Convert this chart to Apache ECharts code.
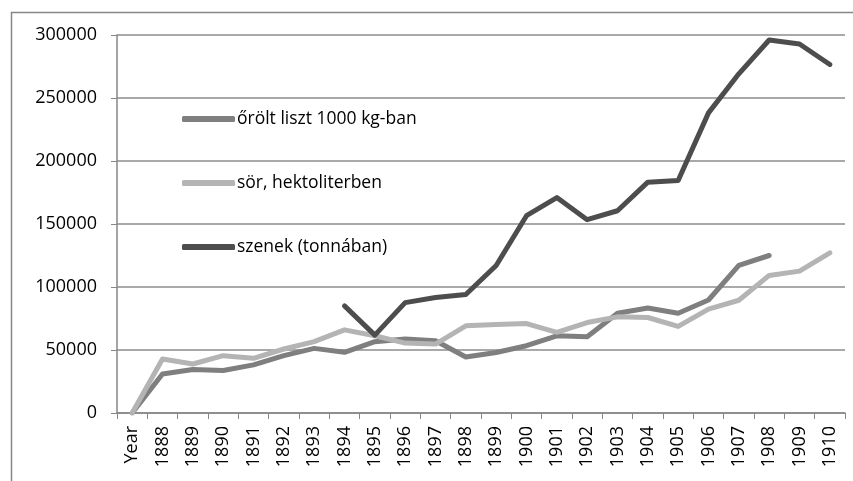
<!DOCTYPE html>
<html>
<head>
<meta charset="utf-8">
<script src="https://cdn.jsdelivr.net/npm/echarts@6/dist/echarts.min.js"></script>
<style>
html, body { margin: 0; padding: 0; background: #fff; }
#chart { width: 853px; height: 481px; }
</style>
</head>
<body>
<div id="chart"></div>
<script>
var years = ['Year', '1888', '1889', '1890', '1891', '1892', '1893', '1894', '1895', '1896', '1897', '1898',
    '1899', '1900', '1901', '1902', '1903', '1904', '1905', '1906', '1907', '1908', '1909', '1910'];

// őrölt liszt 1000 kg-ban
var liszt = [0, 31000, 34500, 33700, 38200, 45500, 51300, 48200, 56600, 58700, 57400, 44500,
    48000, 53400, 61300, 60500, 79200, 83400, 79200, 89700, 117100, 125000, null, null];

// sör, hektoliterben
var sor = [0, 42900, 38900, 45500, 43400, 50800, 56600, 66000, 61300, 55500, 54700, 69200,
    70300, 71000, 64000, 71800, 76300, 75800, 68700, 82400, 89500, 109200, 112600, 127100];

// szenek (tonnában)
var szenek = [null, null, null, null, null, null, null, 85000, 61800, 87600, 91600, 94000,
    117100, 156600, 171000, 153400, 160500, 183200, 184500, 238200, 269200, 296000, 292900, 276600];

var seriesNames = ['őrölt liszt 1000 kg-ban', 'sör, hektoliterben', 'szenek (tonnában)'];
var colors = ['#7f7f7f', '#b4b4b4', '#4d4d4d'];

var fontFamily = '"Open Sans", Lato, sans-serif';

function lineSeries(name, data, color) {
    return {
        name: name,
        type: 'line',
        data: data,
        showSymbol: false,
        symbol: 'none',
        connectNulls: false,
        lineStyle: { color: color, width: 5, cap: 'round', join: 'round' },
        itemStyle: { color: color }
    };
}

var option = {
    animation: false,
    backgroundColor: '#fff',
    color: colors,
    textStyle: { fontFamily: fontFamily },
    graphic: [{
        type: 'rect',
        left: 9, top: 10,
        shape: { width: 860, height: 490 },
        style: { fill: 'none', stroke: '#878787', lineWidth: 1.5 },
        z: -1
    }],
    grid: { left: 117, right: 8, top: 35, bottom: 68, containLabel: false },
    legend: {
        orient: 'vertical',
        left: 177,
        top: 103,
        itemWidth: 53,
        itemHeight: 6,
        itemGap: 42,
        icon: 'roundRect',
        textStyle: { fontFamily: fontFamily, fontSize: 17.5, color: '#000', lineHeight: 22, padding: [0, 0, 0, -3] },
        data: seriesNames
    },
    xAxis: {
        type: 'category',
        data: years,
        boundaryGap: true,
        axisLine: { lineStyle: { color: '#878787', width: 1.5 } },
        axisTick: { show: true, length: 6, lineStyle: { color: '#878787' } },
        axisLabel: { rotate: 90, interval: 0, margin: 13, color: '#000', fontSize: 18, fontFamily: fontFamily }
    },
    yAxis: {
        type: 'value',
        min: 0,
        max: 300000,
        interval: 50000,
        axisLine: { show: true, lineStyle: { color: '#878787', width: 1.5 } },
        axisTick: { show: true, length: 6, lineStyle: { color: '#878787' } },
        splitLine: { lineStyle: { color: '#8c8c8c', width: 1.5 } },
        axisLabel: {
            margin: 20, color: '#000', fontSize: 18, fontFamily: fontFamily,
            formatter: function (v) { return String(v); }
        }
    },
    series: [
        lineSeries(seriesNames[0], liszt, colors[0]),
        lineSeries(seriesNames[1], sor, colors[1]),
        lineSeries(seriesNames[2], szenek, colors[2])
    ]
};

var chart = echarts.init(document.getElementById('chart'));
chart.setOption(option);
</script>
</body>
</html>
